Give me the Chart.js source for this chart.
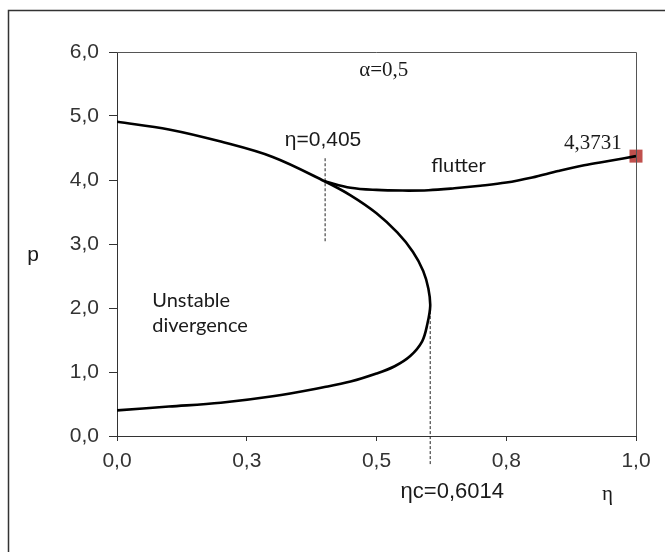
<!DOCTYPE html>
<html lang="en">
<head>
    <meta charset="UTF-8">
    <title>Stability diagram p - eta</title>
    <style>
        html, body {
            margin: 0;
            padding: 0;
            background: #fff;
        }
        #chartBox {
            width: 665px;
            height: 552px;
        }
    </style>
    <script src="https://cdn.jsdelivr.net/npm/chart.js"></script>
</head>
<body>
    <div id="chartBox">
        <canvas id="stabilityChart" width="665" height="552"></canvas>
    </div>

    <script>
        // divergence boundary: upper branch, turning point, then lower branch
        const divEta = [0, 0.1, 0.2, 0.3, 0.4, 0.45, 0.5, 0.54, 0.57, 0.59, 0.60, 0.6035,
                        0.598, 0.588, 0.565, 0.535, 0.5, 0.45, 0.4, 0.3, 0.2, 0.1, 0];
        const divP   = [4.91, 4.79, 4.60, 4.36, 3.98, 3.76, 3.48, 3.18, 2.88, 2.58, 2.30, 2.03,
                        1.75, 1.48, 1.25, 1.09, 0.975, 0.85, 0.765, 0.62, 0.52, 0.46, 0.40];

        // flutter boundary
        const flutEta = [0.40, 0.45, 0.50, 0.55, 0.60, 0.65, 0.70, 0.75, 0.80, 0.85, 0.90, 0.95, 1.0];
        const flutP   = [3.98, 3.88, 3.845, 3.835, 3.84, 3.87, 3.91, 3.96, 4.04, 4.14, 4.23, 4.30, 4.3731];

        // end point (red square)
        const endEta = [1.0];
        const endP = [4.3731];

        // dashed guide lines
        const guide1Eta = [0.401, 0.401];
        const guide1P = [4.34, 3.02];
        const guide2Eta = [0.6035, 0.6035];
        const guide2P = [2.03, -0.45];

        // tick labels
        const xTickValues = [0, 0.25, 0.5, 0.75, 1.0];
        const xTickLabels = ['0,0', '0,3', '0,5', '0,8', '1,0'];
        const yTickValues = [0, 1, 2, 3, 4, 5, 6];
        const yTickLabels = ['0,0', '1,0', '2,0', '3,0', '4,0', '5,0', '6,0'];

        const toPoints = (xs, ys) => xs.map((x, i) => ({ x: x, y: ys[i] }));

        // texts drawn on the plot (positions in data units)
        const notes = [
            { text: 'α=0,5', eta: 0.514, p: 5.71, font: '21px "Liberation Serif"', align: 'center' },
            { text: 'η=0,405', eta: 0.397, p: 4.62, font: '21px "Liberation Sans"', align: 'center' },
            { text: 'flutter', eta: 0.658, p: 4.23, font: '20px Lato', align: 'center' },
            { text: '4,3731', eta: 0.917, p: 4.57, font: '21px "Liberation Serif"', align: 'center' },
            { text: 'Unstable', eta: 0.068, p: 2.11, font: '20px Lato', align: 'left' },
            { text: 'divergence', eta: 0.068, p: 1.72, font: '20px Lato', align: 'left' },
            { text: 'ηc=0,6014', eta: 0.646, p: -0.874, font: '22px "Liberation Sans"', align: 'center' },
            { text: 'η', eta: 0.945, p: -0.92, font: '21px "Liberation Serif"', align: 'center' }
        ];

        const decorPlugin = {
            id: 'decor',
            beforeDraw(chart) {
                const ctx = chart.ctx;
                ctx.save();
                ctx.fillStyle = '#fff';
                ctx.fillRect(0, 0, chart.width, chart.height);
                // outer frame (only top and left visible)
                ctx.strokeStyle = '#333';
                ctx.lineWidth = 1.5;
                ctx.beginPath();
                ctx.moveTo(8.5, chart.height + 5);
                ctx.lineTo(8.5, 10.5);
                ctx.lineTo(chart.width + 5, 10.5);
                ctx.stroke();
                ctx.restore();
            },
            afterDatasetsDraw(chart) {
                const ctx = chart.ctx;
                const xs = chart.scales.x;
                const ys = chart.scales.y;
                const area = chart.chartArea;
                ctx.save();
                // top and right edges of the plot box
                ctx.strokeStyle = '#555';
                ctx.lineWidth = 1;
                ctx.beginPath();
                ctx.moveTo(area.left, area.top + 0.5);
                ctx.lineTo(area.right + 0.5, area.top + 0.5);
                ctx.lineTo(area.right + 0.5, area.bottom);
                ctx.stroke();

                ctx.fillStyle = '#1a1a1a';
                ctx.textBaseline = 'middle';
                notes.forEach(n => {
                    ctx.font = n.font;
                    ctx.textAlign = n.align;
                    ctx.fillText(n.text, xs.getPixelForValue(n.eta), ys.getPixelForValue(n.p));
                });
                ctx.font = '21px "Liberation Sans"';
                ctx.textAlign = 'center';
                ctx.fillText('p', area.left - 84, ys.getPixelForValue(2.83));
                ctx.restore();
            }
        };

        const ctx = document.getElementById('stabilityChart').getContext('2d');
        const stabilityChart = new Chart(ctx, {
            type: 'scatter',
            data: {
                datasets: [
                    {
                        label: 'divergence',
                        data: toPoints(divEta, divP),
                        showLine: true,
                        borderColor: '#000',
                        borderWidth: 2.6,
                        tension: 0.35,
                        pointRadius: 0
                    },
                    {
                        label: 'flutter',
                        data: toPoints(flutEta, flutP),
                        showLine: true,
                        borderColor: '#000',
                        borderWidth: 2.6,
                        tension: 0.35,
                        pointRadius: 0
                    },
                    {
                        label: 'guide1',
                        data: toPoints(guide1Eta, guide1P),
                        showLine: true,
                        borderColor: '#222',
                        borderWidth: 1,
                        borderDash: [3, 2],
                        pointRadius: 0,
                        clip: false
                    },
                    {
                        label: 'guide2',
                        data: toPoints(guide2Eta, guide2P),
                        showLine: true,
                        borderColor: '#222',
                        borderWidth: 1,
                        borderDash: [3, 2],
                        pointRadius: 0,
                        clip: false
                    },
                    {
                        label: 'end',
                        data: toPoints(endEta, endP),
                        pointStyle: 'rect',
                        pointRadius: 9.2,
                        backgroundColor: '#C0504D',
                        borderColor: '#C0504D',
                        borderWidth: 0,
                        clip: false
                    }
                ]
            },
            options: {
                responsive: false,
                animation: false,
                layout: {
                    padding: { left: 0, top: 52, right: 29, bottom: 0 }
                },
                plugins: {
                    legend: { display: false },
                    tooltip: { enabled: false }
                },
                scales: {
                    x: {
                        type: 'linear',
                        min: 0,
                        max: 1,
                        afterBuildTicks: s => { s.ticks = xTickValues.map(v => ({ value: v })); },
                        afterFit: s => { s.height = 116; },
                        ticks: {
                            color: '#333',
                            font: { family: '"Liberation Sans"', size: 21 },
                            padding: 8,
                            maxRotation: 0,
                            callback: (v, i) => xTickLabels[i]
                        },
                        grid: {
                            display: true,
                            drawOnChartArea: false,
                            drawTicks: true,
                            tickLength: 5,
                            color: '#333'
                        },
                        border: { display: true, color: '#333', width: 1 }
                    },
                    y: {
                        type: 'linear',
                        min: 0,
                        max: 6,
                        afterBuildTicks: s => { s.ticks = yTickValues.map(v => ({ value: v })); },
                        afterFit: s => { s.width = 117; },
                        ticks: {
                            color: '#333',
                            font: { family: '"Liberation Sans"', size: 21 },
                            padding: 10,
                            callback: (v, i) => yTickLabels[i]
                        },
                        grid: {
                            display: true,
                            drawOnChartArea: false,
                            drawTicks: true,
                            tickLength: 8,
                            color: '#333'
                        },
                        border: { display: true, color: '#333', width: 1 }
                    }
                }
            },
            plugins: [decorPlugin]
        });
    </script>
</body>
</html>
